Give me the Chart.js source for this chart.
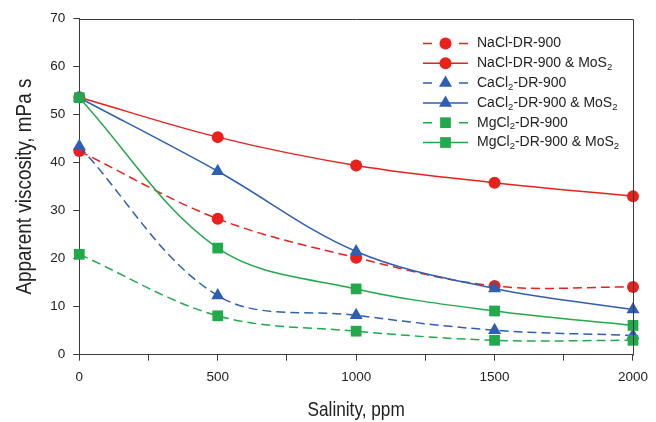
<!DOCTYPE html>
<html>
<head>
<meta charset="utf-8">
<script src="https://cdn.jsdelivr.net/npm/chart.js@4/dist/chart.umd.min.js"></script>
<style>
html,body{margin:0;padding:0;background:#fff;}
#wrap{width:656px;height:422px;}
</style>
</head>
<body>
<div id="wrap"><canvas id="c" width="656" height="422"></canvas></div>
<script>
// ---- data ----
const salinity = [0, 500, 1000, 1500, 2000];
const naclDR = [42.4, 28.3, 20.2, 14.3, 14.1];
const naclDRMoS2 = [53.6, 45.3, 39.4, 35.8, 33.0];
const cacl2DR = [43.4, 12.3, 8.2, 5.1, 4.0];
const cacl2DRMoS2 = [53.5, 38.2, 21.5, 13.8, 9.4];
const mgcl2DR = [20.9, 8.1, 4.9, 3.0, 3.0];
const mgcl2DRMoS2 = [53.5, 22.2, 13.7, 9.1, 6.1];
const seriesLabels = ['NaCl-DR-900', 'NaCl-DR-900 & MoS₂', 'CaCl₂-DR-900', 'CaCl₂-DR-900 & MoS₂', 'MgCl₂-DR-900', 'MgCl₂-DR-900 & MoS₂'];
const xTitle = 'Salinity, ppm';
const yTitle = 'Apparent viscosity, mPa s';

const RED = '#e8211d', BLUE = '#2d5fb2', GREEN = '#22a94b';
const AXIS = '#3a3a3a';
const DASH = [9, 5];
const TICKFONT = '"Liberation Sans", Arial, sans-serif';

function pts(arr){ return salinity.map((x,i)=>({x:x, y:arr[i]})); }

function ds(label, arr, color, dashed, shape, radius, order){
  return {
    label: label, data: pts(arr),
    borderColor: color, backgroundColor: color,
    borderWidth: 1.5, borderDash: dashed ? DASH : [],
    pointStyle: shape, pointRadius: radius, pointHoverRadius: radius,
    pointBorderWidth: 0, pointBackgroundColor: color, pointBorderColor: color,
    tension: 0.35, fill: false, clip: false, order: order,
    _dashed: dashed
  };
}

const datasets = [
  ds(seriesLabels[0], naclDR, RED, true, 'circle', 6, 6),
  ds(seriesLabels[1], naclDRMoS2, RED, false, 'circle', 6, 5),
  ds(seriesLabels[2], cacl2DR, BLUE, true, 'triangle', 7.5, 4),
  ds(seriesLabels[3], cacl2DRMoS2, BLUE, false, 'triangle', 7.5, 3),
  ds(seriesLabels[4], mgcl2DR, GREEN, true, 'rect', 7.6, 2),
  ds(seriesLabels[5], mgcl2DRMoS2, GREEN, false, 'rect', 7.6, 1)
];

function drawMarker(ctx, shape, x, y, r, color){
  ctx.save();
  ctx.fillStyle = color;
  ctx.beginPath();
  if (shape === 'circle') {
    ctx.arc(x, y, r, 0, Math.PI*2);
  } else if (shape === 'triangle') {
    ctx.moveTo(x, y - r);
    ctx.lineTo(x + r*Math.sin(Math.PI/3), y + r*0.5);
    ctx.lineTo(x - r*Math.sin(Math.PI/3), y + r*0.5);
    ctx.closePath();
  } else {
    const s = r*Math.SQRT1_2;
    ctx.rect(x - s, y - s, 2*s, 2*s);
  }
  ctx.fill();
  ctx.restore();
}

function drawSubText(ctx, text, x, y){
  const parts = text.split('₂');
  let cx = x;
  for (let i = 0; i < parts.length; i++) {
    ctx.font = '14px ' + TICKFONT;
    ctx.fillText(parts[i], cx, y);
    cx += ctx.measureText(parts[i]).width;
    if (i < parts.length - 1) {
      ctx.font = '9.5px ' + TICKFONT;
      ctx.fillText('2', cx, y + 4);
      cx += ctx.measureText('2').width;
    }
  }
}

const customDecor = {
  id: 'customDecor',
  afterDraw(chart){
    const ctx = chart.ctx;
    const area = chart.chartArea;
    ctx.save();
    // frame: top and right
    ctx.strokeStyle = AXIS; ctx.lineWidth = 1;
    ctx.beginPath();
    ctx.moveTo(Math.round(area.left)+0.5, Math.round(area.top)+0.5);
    ctx.lineTo(Math.round(area.right)+0.5, Math.round(area.top)+0.5);
    ctx.lineTo(Math.round(area.right)+0.5, Math.round(area.bottom)+0.5);
    ctx.stroke();

    // axis titles (narrow sans look: horizontally condensed Liberation Sans)
    ctx.fillStyle = '#222';
    ctx.textAlign = 'center';
    ctx.textBaseline = 'alphabetic';
    const cx = (area.left + area.right) / 2;
    const cy = (area.top + area.bottom) / 2;
    ctx.save();
    ctx.translate(cx, 415.5);
    ctx.scale(0.82, 1);
    ctx.font = '21px ' + TICKFONT;
    ctx.fillText(xTitle, 0, 0);
    ctx.restore();
    ctx.save();
    ctx.translate(31, cy);
    ctx.rotate(-Math.PI/2);
    ctx.scale(0.84, 1);
    ctx.font = '22.5px ' + TICKFONT;
    ctx.fillText(yTitle, 0, 0);
    ctx.restore();

    // legend
    const x0 = 423, x1 = 468, xm = 445.5, tx = 477;
    ctx.textAlign = 'left';
    chart.data.datasets.forEach((d, i) => {
      const y = 43.5 + i*19.8;
      ctx.strokeStyle = d.borderColor;
      ctx.lineWidth = 1.5;
      ctx.setLineDash([]);
      ctx.beginPath();
      if (d._dashed) {
        ctx.moveTo(x0, y); ctx.lineTo(x0+9, y);
        ctx.moveTo(x1-9, y); ctx.lineTo(x1, y);
      } else {
        ctx.moveTo(x0, y); ctx.lineTo(x1, y);
      }
      ctx.stroke();
      drawMarker(ctx, d.pointStyle, xm, y, d.pointRadius, d.borderColor);
      ctx.fillStyle = '#222';
      ctx.textBaseline = 'middle';
      drawSubText(ctx, d.label, tx, y);
    });
    ctx.restore();
  }
};

new Chart(document.getElementById('c'), {
  type: 'line',
  data: { datasets: datasets },
  options: {
    responsive: false,
    animation: false,
    devicePixelRatio: 1,
    layout: { padding: { top: 18.5, right: 16.7, left: 0, bottom: 0 } },
    plugins: { legend: { display: false }, tooltip: { enabled: false } },
    scales: {
      x: {
        type: 'linear', min: 0, max: 2000,
        afterFit(s){ s.height = 67.3; },
        border: { display: true, color: AXIS, width: 1 },
        grid: { display: true, drawOnChartArea: false, drawTicks: true, tickLength: 6, color: AXIS },
        ticks: {
          stepSize: 250, autoSkip: false, maxRotation: 0, padding: 8,
          color: '#222', font: { family: TICKFONT, size: 13.5 },
          callback: v => (v % 500 === 0 ? String(v) : '')
        },
        title: { display: false, text: xTitle }
      },
      y: {
        type: 'linear', min: 0, max: 70,
        afterFit(s){ s.width = 79.3; },
        border: { display: true, color: AXIS, width: 1 },
        grid: { display: true, drawOnChartArea: false, drawTicks: true, tickLength: 6, color: AXIS },
        ticks: { stepSize: 10, padding: 8, color: '#222', font: { family: TICKFONT, size: 13.5 } },
        title: { display: false, text: yTitle }
      }
    }
  },
  plugins: [customDecor]
});
</script>
</body>
</html>
